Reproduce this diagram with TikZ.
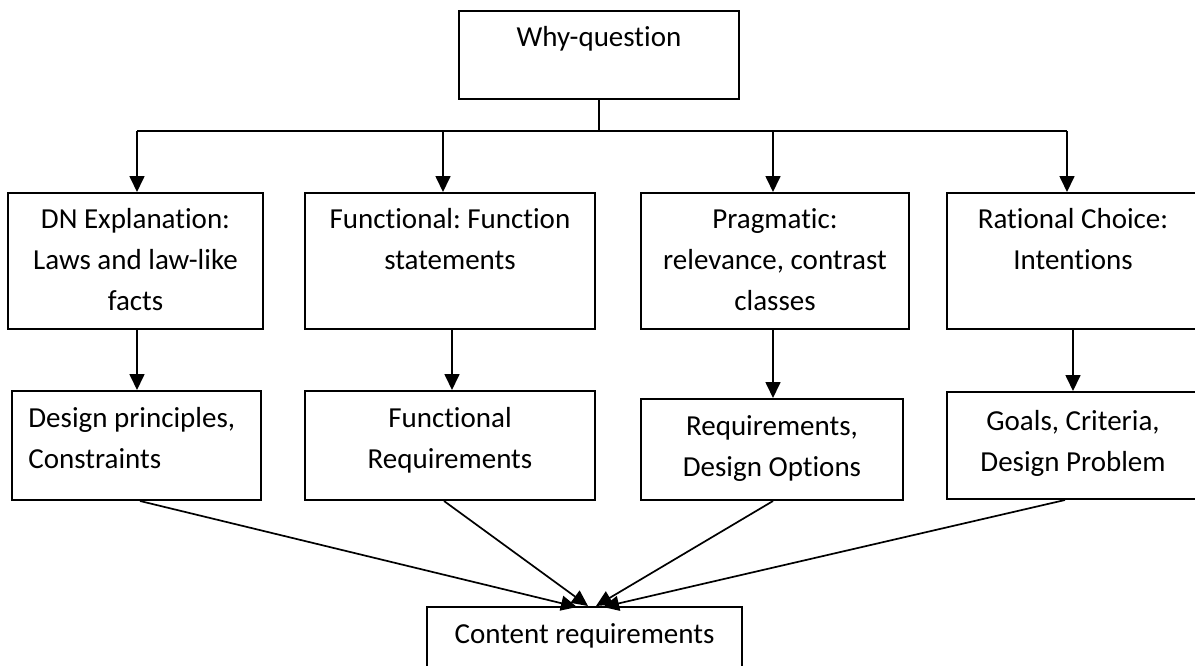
\documentclass[tikz,border=0pt]{standalone}
\usepackage{fontspec}
\setmainfont{Carlito}[Ligatures=NoCommon]
\usetikzlibrary{arrows.meta}
\frenchspacing

\begin{document}
\begin{tikzpicture}[x=0.5pt,y=-0.5pt,
  box/.style={draw, line width=1pt, rectangle, inner sep=0pt},
  txt/.style={font=\fontsize{14.5}{20.5}\selectfont, align=center, inner sep=0pt, anchor=north},
  link/.style={line width=0.85pt},
  arr/.style={link, -{Triangle[length=8pt,width=7.5pt]}}]

  % page frame; boxes on the right run past it
  \clip (0,0) rectangle (1195,665);
  \fill[white] (0,0) rectangle (1195,665);

  % top: the question
  \node[box, minimum width=140pt, minimum height=44pt] (why) at (599,55) {};
  \node[txt] (whyT) at ([yshift=-7pt]why.north) {\rule{0pt}{11pt}Why-question};

  % first row: kinds of explanation
  \node[box, minimum width=127.5pt, minimum height=68pt] (dn)   at (135.5,261) {};
  \node[box, minimum width=145pt,   minimum height=68pt] (fn)   at (450,261)   {};
  \node[box, minimum width=134pt,   minimum height=68pt] (prag) at (775,261)   {};
  \node[box, minimum width=126pt,   minimum height=68pt] (rat)  at (1073,261)  {};

  \node[txt] (dnT)   at ([yshift=-7pt]dn.north)   {\rule{0pt}{11pt}DN Explanation:\\Laws and law-like\\facts};
  \node[txt] (fnT)   at ([yshift=-7pt]fn.north)   {\rule{0pt}{11pt}Functional: Function\\statements};
  \node[txt] (pragT) at ([yshift=-7pt]prag.north) {\rule{0pt}{11pt}Pragmatic:\\relevance, contrast\\classes};
  \node[txt] (ratT)  at ([yshift=-7pt]rat.north)  {\rule{0pt}{11pt}Rational Choice:\\Intentions};

  % second row: design counterparts
  \node[box, minimum width=124.5pt, minimum height=54.5pt] (dp)   at (136.5,445.5) {};
  \node[box, minimum width=145pt,   minimum height=54.5pt] (fr)   at (450,445.5)   {};
  \node[box, minimum width=131pt,   minimum height=50.5pt] (ro)   at (772,449.5)   {};
  \node[box, minimum width=126pt,   minimum height=53.5pt] (gc)   at (1073,445.5)  {};

  \node[txt, align=left, anchor=north west] (dpT) at ([xshift=8.5pt,yshift=-7.5pt]dp.north west)
       {\rule{0pt}{11pt}Design principles,\\Constraints};
  \node[txt] (frT) at ([yshift=-7.5pt]fr.north) {\rule{0pt}{11pt}Functional\\Requirements};
  \node[txt] (roT) at ([yshift=-7.5pt]ro.north) {\rule{0pt}{11pt}Requirements,\\Design Options};
  \node[txt] (gcT) at ([yshift=-8.5pt]gc.north) {\rule{0pt}{11pt}Goals, Criteria,\\Design Problem};

  % bottom: the result
  \node[box, minimum width=157.5pt, minimum height=36.5pt] (cr) at (584.5,643.5) {};
  \node[txt] (crT) at ([yshift=-7.5pt]cr.north) {\rule{0pt}{11pt}Content requirements};

  % branching from the question
  \coordinate (bus) at (599,131);
  \coordinate (a1) at (137,0);
  \coordinate (a2) at (443,0);
  \coordinate (a3) at (773,0);
  \coordinate (a4) at (1067,0);
  \draw[link] (why.south) -- (bus);
  \draw[link] (a1 |- bus) -- (a4 |- bus);
  \draw[arr] (a1 |- bus) -- (a1 |- dn.north);
  \draw[arr] (a2 |- bus) -- (a2 |- fn.north);
  \draw[arr] (a3 |- bus) -- (a3 |- prag.north);
  \draw[arr] (a4 |- bus) -- (a4 |- rat.north);

  % first row to second row
  \coordinate (b1) at (137,0);
  \coordinate (b2) at (452,0);
  \coordinate (b3) at (773,0);
  \coordinate (b4) at (1073,0);
  \draw[arr] (b1 |- dn.south)   -- (b1 |- dp.north);
  \draw[arr] (b2 |- fn.south)   -- (b2 |- fr.north);
  \draw[arr] (b3 |- prag.south) -- (b3 |- ro.north);
  \draw[arr] (b4 |- rat.south)  -- (b4 |- gc.north);

  % second row into the content requirements
  \coordinate (c1) at (140,0);
  \coordinate (c2) at (444,0);
  \coordinate (c3) at (773,0);
  \coordinate (c4) at (1065,0);
  \coordinate (e1) at (577,607);
  \coordinate (e2) at (588,606);
  \coordinate (e3) at (596,606);
  \coordinate (e4) at (603,607);
  \draw[arr] (c1 |- dp.south) -- (e1);
  \draw[arr] (c2 |- fr.south) -- (e2);
  \draw[arr] (c3 |- ro.south) -- (e3);
  \draw[arr] (c4 |- gc.south) -- (e4);
\end{tikzpicture}
\end{document}
